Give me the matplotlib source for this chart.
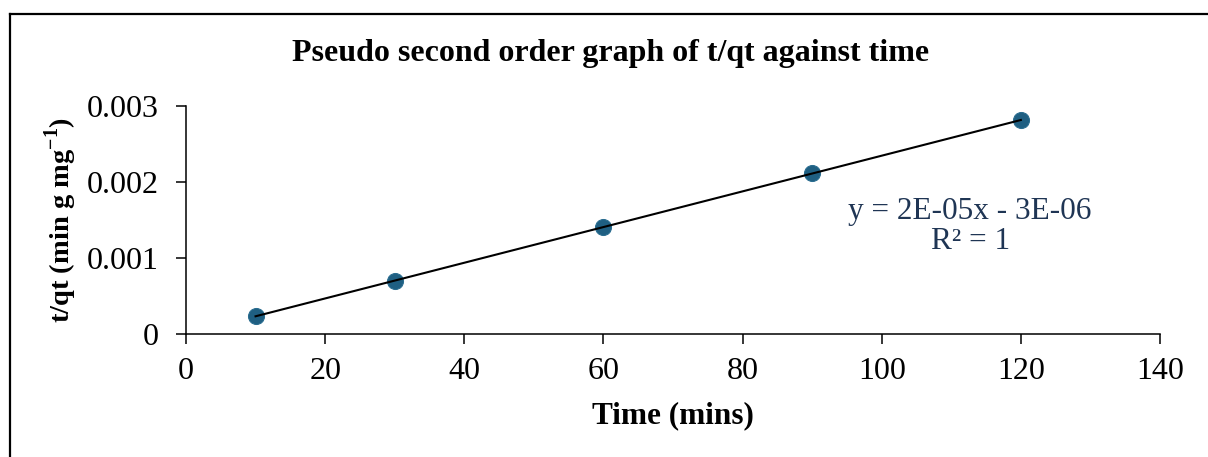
import numpy as np
import matplotlib
matplotlib.use("Agg")
import matplotlib.pyplot as plt
from matplotlib.lines import Line2D

plt.rcParams['font.family'] = ['Liberation Serif', 'DejaVu Serif']
plt.rcParams['mathtext.fontset'] = 'custom'
plt.rcParams['mathtext.rm'] = 'Liberation Serif'
plt.rcParams['mathtext.bf'] = 'Liberation Serif:bold'

# Pseudo second order kinetics data
time_min = [10, 30, 60, 90, 120]
t_over_qt = [0.000237, 0.000698, 0.001405, 0.002115, 0.002815]

title = "Pseudo second order graph of t/qt against time"
x_label = "Time (mins)"
y_label = r"t/qt (min g mg$^{\mathbf{-1}}$)"
x_ticks = [0, 20, 40, 60, 80, 100, 120, 140]
y_ticks = [0, 0.001, 0.002, 0.003]
y_tick_labels = ["0", "0.001", "0.002", "0.003"]
equation = "y = 2E-05x - 3E-06\nR\u00b2 = 1"

W, H = 1208, 457
fig = plt.figure(figsize=(W / 100, H / 100), dpi=100)
ax = fig.add_axes([186 / W, 1 - 334 / H, (1160 - 186) / W, (334 - 106) / H])

marker_color = "#1f5f82"
ax.plot(time_min, t_over_qt, linestyle="none", marker="o", markersize=11.5,
        markerfacecolor=marker_color, markeredgecolor="#2a6d90",
        markeredgewidth=0.8, zorder=3)

# Linear trendline through the data
slope, intercept = np.polyfit(time_min, t_over_qt, 1)
xs = np.array([min(time_min), max(time_min)])
ax.plot(xs, slope * xs + intercept, color="black", linewidth=1.5, zorder=4)

ax.set_xlim(0, 140)
ax.set_ylim(0, 0.003)
ax.set_xticks(x_ticks)
ax.set_yticks(y_ticks)
ax.set_yticklabels(y_tick_labels)
for s in ["top", "right"]:
    ax.spines[s].set_visible(False)
for s in ["left", "bottom"]:
    ax.spines[s].set_linewidth(1.1)
ax.tick_params(axis="both", direction="out", length=7.5, width=1.1,
               labelsize=23, colors="black")
ax.tick_params(axis="y", pad=12)
ax.tick_params(axis="x", pad=9)

ax.set_xlabel(x_label, fontsize=22.5, fontweight="bold", labelpad=11)
ax.set_ylabel(y_label, fontsize=20.5, fontweight="bold", labelpad=6)

fig.text(611 / W, 1 - 54 / H, title, ha="center", va="center",
         fontsize=23, fontweight="bold")

# Trendline equation, placed in data coordinates
ax.text(112.7, 0.00142, equation, ha="center", va="center",
        fontsize=22.5, color="#1f3554", linespacing=1.05)

# Chart area frame
fig.add_artist(Line2D([10 / W, 10 / W], [0, 1 - 14 / H], color="black",
                      linewidth=1.6, transform=fig.transFigure))
fig.add_artist(Line2D([10 / W, 1], [1 - 14 / H, 1 - 14 / H], color="black",
                      linewidth=1.6, transform=fig.transFigure))

fig.savefig("out.png", dpi=100, facecolor="white")
